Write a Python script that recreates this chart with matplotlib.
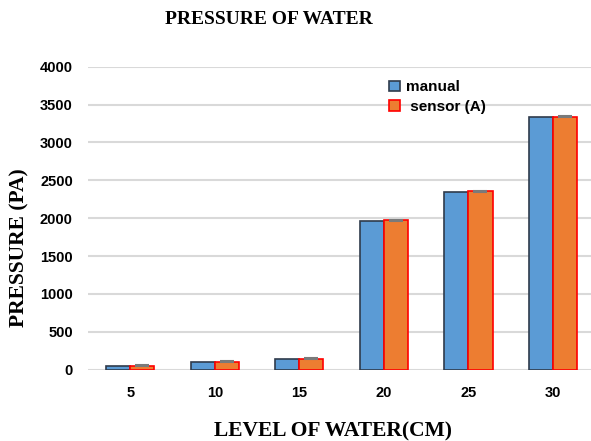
import numpy as np
import matplotlib
matplotlib.use('Agg')
import matplotlib.pyplot as plt

# water level (cm) vs pressure (Pa)
levels = ['5', '10', '15', '20', '25', '30']
manual = [50, 100, 140, 1965, 2350, 3335]
sensor = [55, 105, 145, 1972, 2358, 3340]
sensor_err = [6, 6, 6, 6, 6, 6]

blue = '#5B9BD5'
orange = '#ED7D31'

fig = plt.figure(figsize=(5.91, 4.41), dpi=100)
ax = fig.add_axes([0.149, 0.1617, 0.851, 0.6871])

x = np.arange(len(levels))
w = 0.285
ax.bar(x - w/2, manual, w, color=blue, edgecolor='#2F3B4C', linewidth=1.2,
       label='manual', zorder=3)
ax.bar(x + w/2, sensor, w, color=orange, edgecolor='#FF0000', linewidth=1.2,
       label=' sensor (A)', zorder=3,
       yerr=sensor_err, ecolor='#7A7A7A', capsize=5, error_kw=dict(elinewidth=1, capthick=1.5, zorder=4))

ax.set_xlim(-0.5, 5.45)
ax.set_ylim(0, 4000)
ax.set_yticks(np.arange(0, 4001, 500))
ax.set_xticks(x)
ax.set_xticklabels(levels)
ax.yaxis.grid(True, color='#D9D9D9', linewidth=1.5, zorder=0)
ax.set_axisbelow(True)
for s in ax.spines.values():
    s.set_visible(False)
ax.tick_params(length=0)
ax.tick_params(axis='y', pad=11)
ax.tick_params(axis='x', pad=12)
for lab in ax.get_xticklabels() + ax.get_yticklabels():
    lab.set_fontfamily('Liberation Sans')
    lab.set_fontweight('bold')
    lab.set_fontsize(10.5)

leg = ax.legend(loc='upper left', bbox_to_anchor=(0.587, 0.975), frameon=False,
                handlelength=0.7, handleheight=0.7, handletextpad=0.4,
                labelspacing=0.35, borderaxespad=0,
                prop=dict(family='Liberation Sans', weight='bold', size=11))

serif = dict(family='Liberation Serif', weight='bold')
fig.text(269/591, 1 - 20/441, 'PRESSURE OF WATER', ha='center', va='center', fontsize=14, **serif)
fig.text(19/591, 1 - 248/441, 'PRESSURE (PA)', ha='center', va='center', rotation=90, fontsize=15.5, **serif)
fig.text(333/591, 1 - 431/441, 'LEVEL OF WATER(CM)', ha='center', va='center', fontsize=15.5, **serif)

fig.savefig('out.png', dpi=100)
